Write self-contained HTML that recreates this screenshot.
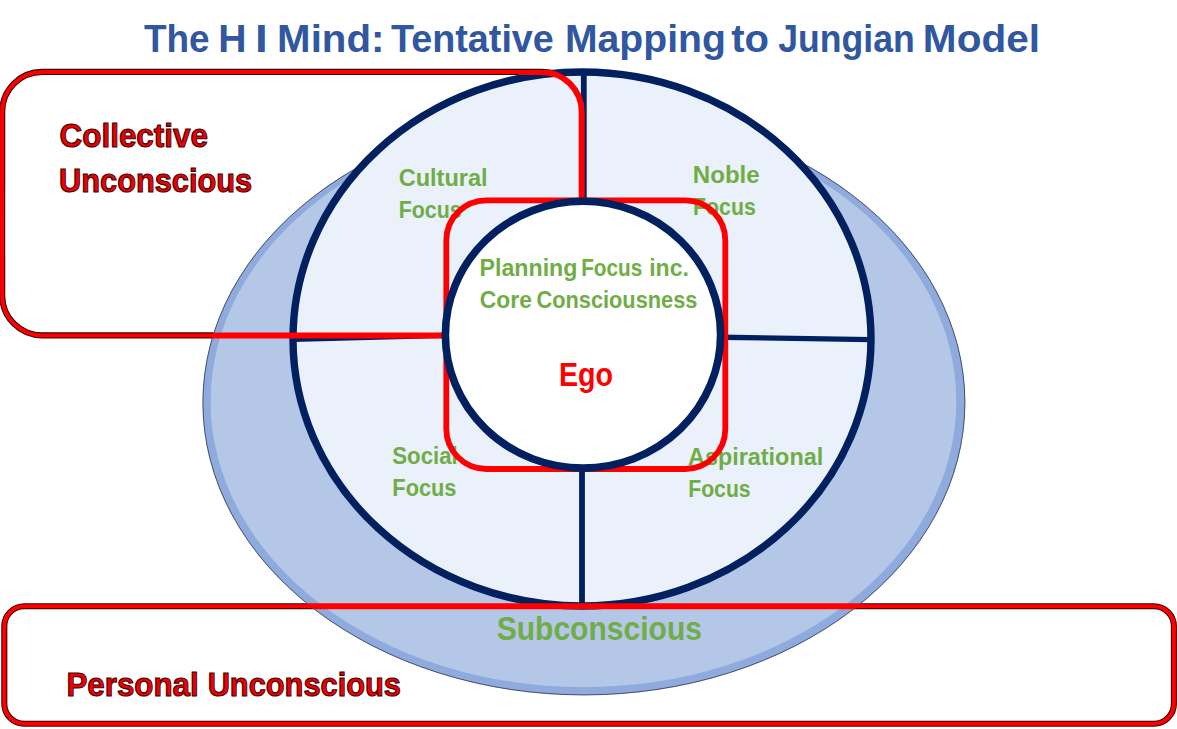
<!DOCTYPE html>
<html><head><meta charset="utf-8"><title>The H I Mind: Tentative Mapping to Jungian Model</title>
<style>
html,body{margin:0;padding:0;background:#fff;width:1177px;height:729px;overflow:hidden}
svg{display:block}
text{font-family:"Liberation Sans",sans-serif;font-weight:bold}
.g{fill:#70AD47}
.r{fill:#EE0000;stroke:#400000;stroke-width:1.1px}
</style></head><body>
<svg width="1177" height="729" viewBox="0 0 1177 729">
<rect x="0" y="0" width="1177" height="729" fill="#fff"/>
<defs>
<mask id="out" maskUnits="userSpaceOnUse" x="0" y="0" width="1177" height="729">
<rect x="0" y="0" width="1177" height="729" fill="#fff"/>
<ellipse cx="583.9" cy="402.6" rx="381.4" ry="292.7" fill="#000"/>
<ellipse cx="582" cy="339" rx="292.7" ry="270.7" fill="#000"/>
</mask>
<mask id="in" maskUnits="userSpaceOnUse" x="0" y="0" width="1177" height="729">
<rect x="0" y="0" width="1177" height="729" fill="#000"/>
<ellipse cx="583.9" cy="402.6" rx="381.4" ry="292.7" fill="#fff"/>
<ellipse cx="582" cy="339" rx="292.7" ry="270.7" fill="#fff"/>
</mask>
</defs>
<!-- outer light blue ellipse -->
<ellipse cx="583.9" cy="402.6" rx="381.4" ry="292.7" fill="#8FAADC"/>
<ellipse cx="583.45" cy="401.4" rx="372.85" ry="285.8" fill="#B4C7E7"/>
<ellipse cx="583.9" cy="402.6" rx="381.0" ry="292.3" fill="none" stroke="#1a1a2a" stroke-width="0.9" opacity="0.7"/>
<!-- big navy ellipse -->
<ellipse cx="582" cy="339" rx="289" ry="267" fill="#EAF1FA" stroke="#002060" stroke-width="7.4"/>
<!-- dividers -->
<g stroke="#002060">
<line x1="583.8" y1="72" x2="583.8" y2="201" stroke-width="5.8"/>
<line x1="582" y1="468" x2="582" y2="606" stroke-width="5.8"/>
<line x1="293" y1="339.3" x2="445" y2="335.4" stroke-width="5.4"/>
<line x1="721" y1="337.2" x2="871" y2="339.6" stroke-width="5.4"/>
</g>
<!-- quadrant labels -->
<text x="398.63" y="185.7" font-size="24.4" class="g" textLength="89.04" lengthAdjust="spacingAndGlyphs">Cultural</text>
<text x="398.67" y="217.5" font-size="24.4" class="g" textLength="63.11" lengthAdjust="spacingAndGlyphs">Focus</text>
<text x="692.79" y="183.0" font-size="24.4" class="g" textLength="66.94" lengthAdjust="spacingAndGlyphs">Noble</text>
<text x="692.97" y="214.9" font-size="24.4" class="g" textLength="62.8" lengthAdjust="spacingAndGlyphs">Focus</text>
<text x="392.26" y="463.5" font-size="24.4" class="g" textLength="65.52" lengthAdjust="spacingAndGlyphs">Social</text>
<text x="392.34" y="495.5" font-size="24.4" class="g" textLength="64.15" lengthAdjust="spacingAndGlyphs">Focus</text>
<text x="688.12" y="464.8" font-size="24.4" class="g" textLength="135.04" lengthAdjust="spacingAndGlyphs">Aspirational</text>
<text x="688.18" y="497.0" font-size="24.4" class="g" textLength="62.49" lengthAdjust="spacingAndGlyphs">Focus</text>
<!-- collective unconscious box -->
<g fill="none">
<rect x="2.2" y="71.9" width="579.5" height="263.5" rx="40" ry="40" stroke="#3a0000" stroke-width="6.1" mask="url(#out)"/>
<rect x="2.2" y="71.9" width="579.5" height="263.5" rx="40" ry="40" stroke="#FF0000" stroke-width="6.0" mask="url(#in)"/>
<rect x="2.2" y="71.9" width="579.5" height="263.5" rx="40" ry="40" stroke="#FF0000" stroke-width="4.0"/>
</g>
<!-- ego box -->
<rect x="446.3" y="200.4" width="279" height="268.6" rx="40" ry="40" fill="none" stroke="#FF0000" stroke-width="5.8"/>
<!-- inner circle -->
<ellipse cx="583" cy="334.7" rx="137.6" ry="133.4" fill="#fff" stroke="#002060" stroke-width="7.6"/>
<text x="479.55" y="276.4" font-size="24.4" class="g" textLength="97.9" lengthAdjust="spacingAndGlyphs">Planning</text>
<text x="581.22" y="276.4" font-size="24.4" class="g" textLength="60.93" lengthAdjust="spacingAndGlyphs">Focus</text>
<text x="649.19" y="276.4" font-size="24.4" class="g" textLength="39.7" lengthAdjust="spacingAndGlyphs">inc.</text>
<text x="479.76" y="308.4" font-size="24.4" class="g" textLength="52.12" lengthAdjust="spacingAndGlyphs">Core</text>
<text x="536.51" y="308.4" font-size="24.4" class="g" textLength="160.89" lengthAdjust="spacingAndGlyphs">Consciousness</text>
<text x="558.88" y="385.7" font-size="34" fill="#FF0000" textLength="54.14" lengthAdjust="spacingAndGlyphs">Ego</text>
<!-- personal unconscious box -->
<g fill="none">
<rect x="4.3" y="606.3" width="1169.6" height="117.5" rx="20" ry="20" stroke="#3a0000" stroke-width="6.1" mask="url(#out)"/>
<rect x="4.3" y="606.3" width="1169.6" height="117.5" rx="20" ry="20" stroke="#FF0000" stroke-width="6.0" mask="url(#in)"/>
<rect x="4.3" y="606.3" width="1169.6" height="117.5" rx="20" ry="20" stroke="#FF0000" stroke-width="4.0"/>
</g>
<text x="496.63" y="640.1" font-size="34" class="g" textLength="205.4" lengthAdjust="spacingAndGlyphs">Subconscious</text>
<text x="66.4" y="695.9" font-size="33.3" class="r" textLength="132.31" lengthAdjust="spacingAndGlyphs">Personal</text>
<text x="207.65" y="695.9" font-size="33.3" class="r" textLength="193.31" lengthAdjust="spacingAndGlyphs">Unconscious</text>
<text x="59.61" y="147.2" font-size="33.4" class="r" textLength="148.26" lengthAdjust="spacingAndGlyphs">Collective</text>
<text x="59.05" y="192.1" font-size="33.4" class="r" textLength="193.11" lengthAdjust="spacingAndGlyphs">Unconscious</text>
<!-- title -->
<text x="143.99" y="52.4" font-size="39.2" fill="#3057A0" textLength="65.68" lengthAdjust="spacingAndGlyphs">The</text>
<text x="218.28" y="52.4" font-size="39.2" fill="#3057A0" textLength="28.25" lengthAdjust="spacingAndGlyphs">H</text>
<text x="255.03" y="52.4" font-size="39.2" fill="#3057A0" textLength="12.73" lengthAdjust="spacingAndGlyphs">I</text>
<text x="277.11" y="52.4" font-size="39.2" fill="#3057A0" textLength="107.26" lengthAdjust="spacingAndGlyphs">Mind:</text>
<text x="390.98" y="52.4" font-size="39.2" fill="#3057A0" textLength="162.88" lengthAdjust="spacingAndGlyphs">Tentative</text>
<text x="564.98" y="52.4" font-size="39.2" fill="#3057A0" textLength="160.94" lengthAdjust="spacingAndGlyphs">Mapping</text>
<text x="731.21" y="52.4" font-size="39.2" fill="#3057A0" textLength="37.86" lengthAdjust="spacingAndGlyphs">to</text>
<text x="778.26" y="52.4" font-size="39.2" fill="#3057A0" textLength="136.45" lengthAdjust="spacingAndGlyphs">Jungian</text>
<text x="922.89" y="52.4" font-size="39.2" fill="#3057A0" textLength="117.08" lengthAdjust="spacingAndGlyphs">Model</text>
</svg>
</body></html>
